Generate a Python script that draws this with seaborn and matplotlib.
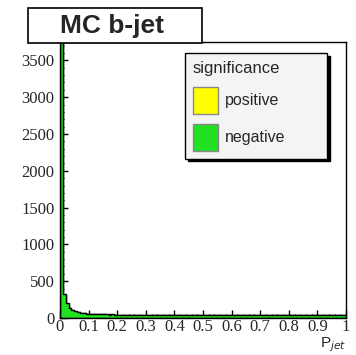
import numpy as np
import pandas as pd
import matplotlib
matplotlib.use('Agg')
import matplotlib.pyplot as plt
from matplotlib.patches import Patch, Rectangle
import seaborn as sns

# bin contents, 100 bins from 0 to 1
positive = [5200, 310, 195, 135, 105, 88, 76, 69, 63, 59,
            56, 54, 52, 50, 49, 50, 47, 48, 46, 47,
            45, 46, 44, 45, 46, 43, 44, 45, 42, 44,
            43, 45, 42, 43, 44, 41, 43, 42, 44, 41,
            42, 43, 40, 42, 41, 43, 40, 41, 42, 40,
            41, 42, 39, 41, 40, 42, 39, 40, 41, 39,
            40, 41, 38, 40, 39, 41, 38, 39, 40, 38,
            39, 40, 37, 39, 38, 40, 37, 38, 39, 37,
            38, 39, 36, 38, 37, 39, 36, 37, 38, 36,
            37, 38, 35, 37, 36, 38, 35, 36, 38, 40]
negative = [4300, 330, 205, 140, 108, 90, 78, 70, 64, 60,
            57, 55, 53, 51, 50, 48, 49, 47, 48, 46,
            46, 45, 46, 44, 45, 44, 45, 43, 44, 43,
            44, 43, 44, 42, 43, 42, 44, 41, 43, 42,
            43, 41, 42, 41, 42, 40, 42, 40, 41, 41,
            40, 41, 40, 40, 41, 39, 41, 39, 40, 40,
            39, 40, 39, 39, 40, 38, 40, 38, 39, 39,
            38, 39, 38, 38, 39, 37, 39, 37, 38, 38,
            37, 38, 37, 37, 38, 36, 38, 36, 37, 37,
            36, 37, 36, 36, 37, 35, 37, 35, 37, 39]
x_ticks = [0, 0.1, 0.2, 0.3, 0.4, 0.5, 0.6, 0.7, 0.8, 0.9, 1]
x_tick_labels = ['0', '0.1', '0.2', '0.3', '0.4', '0.5', '0.6', '0.7', '0.8', '0.9', '1']
y_ticks = [0, 500, 1000, 1500, 2000, 2500, 3000, 3500]

edges = np.linspace(0, 1, 101)
centers = (edges[:-1] + edges[1:]) / 2
pos_df = pd.DataFrame({'pjet': centers, 'n': positive})
neg_df = pd.DataFrame({'pjet': centers, 'n': negative})

sns.set_style('ticks')
plt.rcParams['font.family'] = ['Liberation Sans', 'DejaVu Sans']

fig = plt.figure(figsize=(3.56, 3.55), dpi=100)
ax = fig.add_axes([60 / 356, 1 - 318 / 355, 286 / 356, 276 / 355])

sns.histplot(data=pos_df, x='pjet', weights='n', bins=100, binrange=(0, 1),
             element='step', fill=True, color='#ffff00', alpha=1,
             edgecolor='black', linewidth=1, ax=ax)
sns.histplot(data=neg_df, x='pjet', weights='n', bins=100, binrange=(0, 1),
             element='step', fill=True, color='#22e022', alpha=1,
             edgecolor='black', linewidth=1, ax=ax)

ax.set_xlim(0, 1)
ax.set_ylim(0, 3750)
ax.set_xticks(x_ticks)
ax.set_xticklabels(x_tick_labels, family='Liberation Serif', fontsize=12)
ax.set_xticks(np.linspace(0, 1, 51), minor=True)
ax.set_yticks(y_ticks)
ax.set_yticklabels([str(v) for v in y_ticks], family='Liberation Serif', fontsize=12)
ax.set_yticks(np.arange(0, 3750, 100), minor=True)
ax.tick_params(axis='both', which='both', direction='in', top=False, right=False, color='black')
ax.tick_params(axis='both', which='major', length=6, width=1)
ax.tick_params(axis='both', which='minor', length=3, width=0.8)
ax.tick_params(axis='y', pad=4)
ax.tick_params(axis='x', pad=1)
for s in ax.spines.values():
    s.set_visible(True)
    s.set_color('black')
    s.set_linewidth(1)
ax.set_ylabel('')
ax.set_xlabel(r'P$_{jet}$', fontsize=11, ha='right', va='top')
ax.xaxis.set_label_coords(1.0, -0.062)

# legend
handles = [Patch(facecolor='#ffff00', edgecolor='#888888', label='positive'),
           Patch(facecolor='#22e022', edgecolor='#888888', label='negative')]
leg = ax.legend(handles=handles, title='significance', loc='upper left',
                bbox_to_anchor=(185 / 356, 1 - 57 / 355, 142 / 356, 0.01),
                bbox_transform=fig.transFigure, mode='expand',
                fancybox=False, edgecolor='black', facecolor='#f4f4f4', framealpha=1,
                shadow={'color': 'black', 'alpha': 1}, fontsize=11.5, title_fontsize=12,
                handlelength=1.55, handleheight=2.2, handletextpad=0.45,
                labelspacing=0.65, borderpad=0.5, borderaxespad=0, alignment='left')
leg.get_frame().set_linewidth(1)

# title box
fig.patches.append(Rectangle((28 / 356, 1 - 43 / 355), 174 / 356, 35 / 355,
                             transform=fig.transFigure, facecolor='white',
                             edgecolor='black', linewidth=1.2, zorder=5))
fig.text(112 / 356, 1 - 26 / 355, 'MC b-jet', fontsize=19, fontweight='bold',
         ha='center', va='center', zorder=6)

fig.savefig('out.png', dpi=100, facecolor='white')
